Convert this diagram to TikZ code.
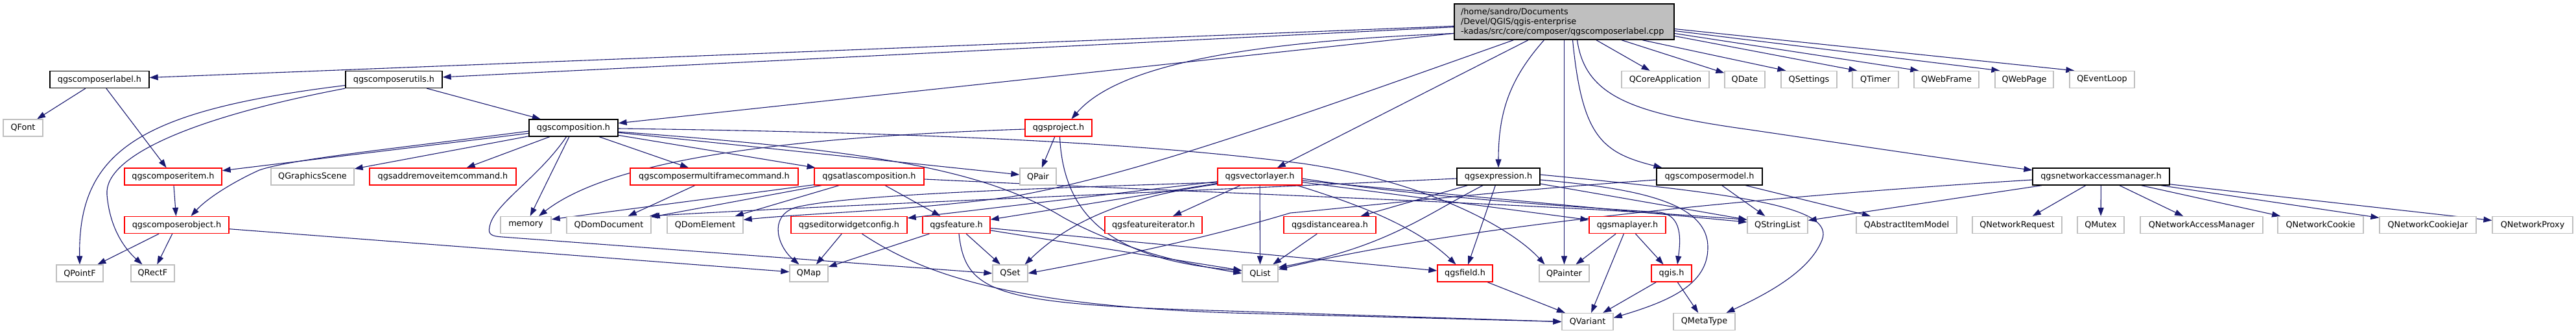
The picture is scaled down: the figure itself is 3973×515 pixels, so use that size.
\documentclass[tikz,border=0pt]{standalone}
\usepackage{fontspec}
\setmainfont{DejaVu Sans}
\usetikzlibrary{calc,arrows.meta}
\definecolor{edgec}{HTML}{191970}
\definecolor{grayb}{HTML}{BFBFBF}
\definecolor{mainfill}{HTML}{BFBFBF}
\definecolor{redb}{HTML}{FF0000}
\newcommand{\dxf}{\fontsize{12.8pt}{15pt}\selectfont}
\pgfdeclarelayer{edgelayer}
\pgfsetlayers{edgelayer,main}
\tikzset{
  nb/.style={rectangle, line width=1.3pt, fill=white, inner sep=0pt, minimum height=26pt, font=\dxf},
  bbox/.style={nb, draw=black},
  rbox/.style={nb, draw=redb},
  gbox/.style={nb, draw=grayb},
  dep/.style={draw=edgec, line width=1.1pt, -{Triangle[length=13pt,width=9pt]}},
}
\begin{document}
\begin{tikzpicture}[x=1pt,y=-1pt]
\useasboundingbox (0,0) rectangle (3973,515);
% ---- nodes ----
\node[draw=black, fill=mainfill, line width=1.3pt, rectangle, inner xsep=10pt, inner ysep=2pt, text width=319pt, align=left, minimum height=55pt, font=\dxf] (main) at (2412.5,33.5) {/home/sandro/Documents\\/Devel/QGIS/qgis-enterprise\\-kadas/src/core/composer/qgscomposerlabel.cpp};
\node[bbox, minimum width=153pt] (label) at (153.5,122.5) {qgscomposerlabel.h};
\node[bbox, minimum width=149pt] (utils) at (607.5,122.5) {qgscomposerutils.h};
\node[gbox, minimum width=135pt] (qcoreapp) at (2568.5,122.5) {QCoreApplication};
\node[gbox, minimum width=62pt] (qdate) at (2691,122.5) {QDate};
\node[gbox, minimum width=86pt] (qsettings) at (2790,122.5) {QSettings};
\node[gbox, minimum width=71pt] (qtimer) at (2892.5,122.5) {QTimer};
\node[gbox, minimum width=100pt] (qwebframe) at (3002,122.5) {QWebFrame};
\node[gbox, minimum width=90pt] (qwebpage) at (3122,122.5) {QWebPage};
\node[gbox, minimum width=100pt] (qeventloop) at (3242,122.5) {QEventLoop};
\node[gbox, minimum width=61pt] (qfont) at (35.5,197) {QFont};
\node[bbox, minimum width=137pt] (composition) at (884.5,197) {qgscomposition.h};
\node[rbox, minimum width=103pt] (project) at (1632.5,197) {qgsproject.h};
\node[rbox, minimum width=150pt] (composeritem) at (267,272) {qgscomposeritem.h};
\node[gbox, minimum width=128pt] (qgraphicsscene) at (482,272) {QGraphicsScene};
\node[rbox, minimum width=226pt] (addremove) at (683,272) {qgsaddremoveitemcommand.h};
\node[rbox, minimum width=259pt] (multiframecmd) at (1101.5,272) {qgscomposermultiframecommand.h};
\node[rbox, minimum width=169pt] (atlas) at (1340.5,272) {qgsatlascomposition.h};
\node[gbox, minimum width=56pt] (qpair) at (1601,272) {QPair};
\node[rbox, minimum width=130pt] (vectorlayer) at (1943,272) {qgsvectorlayer.h};
\node[bbox, minimum width=128pt] (expression) at (2311,272) {qgsexpression.h};
\node[bbox, minimum width=163pt] (composermodel) at (2636.5,272) {qgscomposermodel.h};
\node[bbox, minimum width=211pt] (netmgr) at (3240.5,272) {qgsnetworkaccessmanager.h};
\node[rbox, minimum width=161pt] (composerobject) at (272.5,346.5) {qgscomposerobject.h};
\node[gbox, minimum width=78pt] (memory) at (811,346.5) {memory};
\node[gbox, minimum width=130pt] (qdomdocument) at (939,346.5) {QDomDocument};
\node[gbox, minimum width=117pt] (qdomelement) at (1087.5,346.5) {QDomElement};
\node[rbox, minimum width=179pt] (editorwidget) at (1309.5,346.5) {qgseditorwidgetconfig.h};
\node[rbox, minimum width=104pt] (feature) at (1475,346.5) {qgsfeature.h};
\node[rbox, minimum width=150pt] (featureiterator) at (1779,346.5) {qgsfeatureiterator.h};
\node[rbox, minimum width=142pt] (distancearea) at (2051,346.5) {qgsdistancearea.h};
\node[rbox, minimum width=118pt] (maplayer) at (2510,346.5) {qgsmaplayer.h};
\node[gbox, minimum width=93pt] (qstringlist) at (2741.5,346.5) {QStringList};
\node[gbox, minimum width=155pt] (qabstractitemmodel) at (2940.5,346.5) {QAbstractItemModel};
\node[gbox, minimum width=138pt] (qnetworkrequest) at (3111,346.5) {QNetworkRequest};
\node[gbox, minimum width=72pt] (qmutex) at (3240,346.5) {QMutex};
\node[gbox, minimum width=189pt] (qnam) at (3395.5,346.5) {QNetworkAccessManager};
\node[gbox, minimum width=132pt] (qnetworkcookie) at (3579,346.5) {QNetworkCookie};
\node[gbox, minimum width=149pt] (qnetworkcookiejar) at (3744.5,346.5) {QNetworkCookieJar};
\node[gbox, minimum width=124pt] (qnetworkproxy) at (3906,346.5) {QNetworkProxy};
\node[gbox, minimum width=72pt] (qpointf) at (123,421) {QPointF};
\node[gbox, minimum width=67pt] (qrectf) at (235.5,421) {QRectF};
\node[gbox, minimum width=59pt] (qmap) at (1247.5,421) {QMap};
\node[gbox, minimum width=54pt] (qset) at (1558,421) {QSet};
\node[gbox, minimum width=55pt] (qlist) at (1943.5,421) {QList};
\node[rbox, minimum width=85pt] (field) at (2259.5,421) {qgsfield.h};
\node[gbox, minimum width=77pt] (qpainter) at (2412.5,421) {QPainter};
\node[rbox, minimum width=62pt] (qgis) at (2578,421) {qgis.h};
\node[gbox, minimum width=79pt] (qvariant) at (2448.5,495.5) {QVariant};
\node[gbox, minimum width=95pt] (qmetatype) at (2628.5,495.5) {QMetaType};
% ---- edges ----
\begin{pgfonlayer}{edgelayer}
% main
\draw[dep] (main) -- (label);
\draw[dep] (main) -- (utils);
\draw[dep] (main) -- (composition);
\draw[dep] ($(main.west)+(0,18)$) .. controls (1900,65) and (1720,105) .. ($(project.north)+(20,0)$);
\draw[dep] ($(main.south)+(-78,0)$) .. controls (2000,180) and (1750,270) .. (1560,303) .. controls (1400,325) and (1250,328) .. ($(qdomelement.east)+(0,-8)$);
\draw[dep] (main) -- (vectorlayer);
\draw[dep] ($(main.south)+(-31,0)$) .. controls (2330,120) and (2311,170) .. (expression.north);
\draw[dep] (main) -- (qpainter);
\draw[dep] ($(main.south)+(13,0)$) .. controls (2440,210) and (2470,235) .. ($(composermodel.north)+(-73,0)$);
\draw[dep] ($(main.south)+(20,0)$) .. controls (2445,150) and (2520,175) .. (2700,200) .. controls (2850,222) and (3000,245) .. ($(netmgr.west)+(0,-10)$);
\draw[dep] (main) -- (qcoreapp);
\draw[dep] ($(main.south east)+(-82,0)$) -- (qdate);
\draw[dep] ($(main.south east)+(-50,0)$) -- ($(qsettings.north west)+(8,0)$);
\draw[dep] ($(main.east)+(0,22)$) -- ($(qtimer.north west)+(8,0)$);
\draw[dep] ($(main.east)+(0,18)$) -- ($(qwebframe.north west)+(8,0)$);
\draw[dep] ($(main.east)+(0,14)$) -- ($(qwebpage.north west)+(8,0)$);
\draw[dep] ($(main.east)+(0,11)$) -- ($(qeventloop.north west)+(8,0)$);
% label
\draw[dep] (label) -- (qfont);
\draw[dep] (label) -- (composeritem);
% utils
\draw[dep] ($(utils.west)+(0,9)$) .. controls (220,170) and (120,230) .. (qpointf.north);
\draw[dep] (utils.south west) .. controls (300,180) and (160,240) .. (165,300) .. controls (170,360) and (200,390) .. ($(qrectf.north)+(-16,0)$);
\draw[dep] (utils) -- (composition);
% composition
\draw[dep] (composition) -- (composeritem);
\draw[dep] ($(composition.west)+(0,5)$) .. controls (600,230) and (450,245) .. (400,262) .. controls (360,280) and (320,305) .. ($(composerobject.north)+(22,0)$);
\draw[dep] (composition) -- (qgraphicsscene);
\draw[dep] (composition) -- (addremove);
\draw[dep] (composition) -- (memory);
\draw[dep] ($(composition.south)+(-11,0)$) .. controls (830,275) and (760,315) .. (755,350) .. controls (752,362) and (760,364) .. (775,365) -- (qset.west);
\draw[dep] (composition) -- (multiframecmd);
\draw[dep] (composition) -- (atlas);
\draw[dep] (composition) -- (qpair);
\draw[dep] ($(composition.east)+(0,6)$) .. controls (1350,232) and (1520,262) .. (1640,335) .. controls (1740,390) and (1850,410) .. (qlist.west);
\draw[dep] ($(composition.east)+(0,1)$) .. controls (1500,205) and (1800,225) .. (2010,252) .. controls (2200,280) and (2330,350) .. ($(qpainter.north)+(-30,0)$);
% composeritem / composerobject
\draw[dep] (composeritem) -- (composerobject);
\draw[dep] (composerobject) -- (qpointf);
\draw[dep] (composerobject) -- (qrectf);
\draw[dep] (composerobject) -- (qmap);
% multiframe
\draw[dep] (multiframecmd) -- (qdomdocument);
% atlas
\draw[dep] ($(atlas.south west)+(0,-1)$) -- ($(memory.north east)+(0,5)$);
\draw[dep] (atlas) -- (qdomdocument);
\draw[dep] (atlas) -- (qdomelement);
\draw[dep] (atlas) -- (feature);
\draw[dep] ($(atlas.east)+(0,4)$) .. controls (2000,303) and (2400,315) .. ($(qstringlist.west)+(0,-8)$);
% project
\draw[dep] ($(project.west)+(0,2)$) .. controls (1250,210) and (950,240) .. ($(memory.north)+(20,0)$);
\draw[dep] (project) -- (qpair);
\draw[dep] ($(project.south)+(2,0)$) .. controls (1640,330) and (1710,400) .. ($(qlist.west)+(0,-4)$);
% vectorlayer
\draw[dep] (vectorlayer) -- (editorwidget);
\draw[dep] (vectorlayer) -- (feature);
\draw[dep] ($(vectorlayer.west)+(0,9)$) .. controls (1600,290) and (1300,300) .. (1225,320) .. controls (1185,335) and (1200,380) .. ($(qmap.north)+(-15,0)$);
\draw[dep] ($(vectorlayer.south west)+(0,-2)$) .. controls (1760,300) and (1660,330) .. ($(qset.north east)+(-5,0)$);
\draw[dep] (vectorlayer) -- (featureiterator);
\draw[dep] (vectorlayer) -- (qlist);
\draw[dep] (vectorlayer) -- (qstringlist);
\draw[dep] (vectorlayer) -- (maplayer);
\draw[dep] ($(vectorlayer.south east)+(-8,0)$) .. controls (2080,310) and (2180,345) .. ($(field.north)+(-14,0)$);
\draw[dep] ($(vectorlayer.east)+(0,3)$) .. controls (2200,305) and (2450,320) .. (2560,327) .. controls (2595,332) and (2592,370) .. ($(qgis.north)+(9,0)$);
% editorwidget
\draw[dep] (editorwidget) -- (qmap);
\draw[dep] ($(editorwidget.south)+(20,0)$) .. controls (1420,420) and (1550,470) .. (1900,482) -- (qvariant.west);
% feature
\draw[dep] (feature) -- (qmap);
\draw[dep] (feature) -- (qset);
\draw[dep] (feature) -- (qlist);
\draw[dep] (feature) -- (field);
\draw[dep] ($(feature.south)+(4,0)$) .. controls (1488,445) and (1530,465) .. (1800,476) -- (qvariant.west);
% distancearea
\draw[dep] (distancearea) -- (qlist);
% expression
\draw[dep] (expression) -- (distancearea);
\draw[dep] ($(expression.south)+(-24,0)$) .. controls (2200,330) and (2140,380) .. ($(qlist.east)+(0,-9)$);
\draw[dep] (expression) -- (field);
\draw[dep] (expression) -- (qstringlist);
\draw[dep] ($(expression.west)+(0,3)$) .. controls (1700,300) and (1250,318) .. ($(qdomdocument.north east)+(-3,0)$);
\draw[dep] ($(expression.east)+(0,5)$) .. controls (2520,290) and (2633,310) .. (2634,380) .. controls (2635,440) and (2570,465) .. ($(qvariant.east)+(0,-6)$);
\draw[dep] ($(expression.east)+(0,-3)$) .. controls (2700,300) and (2830,320) .. (2810,370) .. controls (2790,420) and (2720,455) .. ($(qmetatype.north)+(34,0)$);
% maplayer, field, qgis
\draw[dep] (maplayer) -- (qpainter);
\draw[dep] (maplayer) -- (qvariant);
\draw[dep] (maplayer) -- (qgis);
\draw[dep] (field) -- (qvariant);
\draw[dep] (qgis) -- (qvariant);
\draw[dep] (qgis) -- (qmetatype);
% composermodel
\draw[dep] ($(composermodel.west)+(0,5)$) .. controls (2300,295) and (2100,318) .. (1990,328) .. controls (1900,355) and (1780,385) .. (qset.east);
\draw[dep] (composermodel) -- (qstringlist);
\draw[dep] (composermodel) -- (qabstractitemmodel);
% network access manager
\draw[dep] ($(netmgr.west)+(0,5)$) .. controls (2600,310) and (2200,360) .. ($(qlist.east)+(0,-6)$);
\draw[dep] (netmgr) -- (qstringlist);
\draw[dep] (netmgr) -- (qnetworkrequest);
\draw[dep] (netmgr) -- (qmutex);
\draw[dep] (netmgr) -- (qnam);
\draw[dep] (netmgr) -- (qnetworkcookie);
\draw[dep] (netmgr) -- (qnetworkcookiejar);
\draw[dep] (netmgr) -- (qnetworkproxy);
\end{pgfonlayer}
\end{tikzpicture}
\end{document}
